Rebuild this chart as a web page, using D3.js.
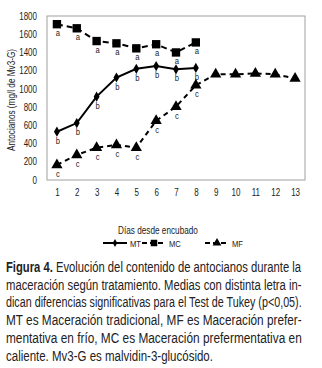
<!DOCTYPE html>
<html><head><meta charset="utf-8">
<script src="https://cdn.jsdelivr.net/npm/d3@7"></script>
<style>
body{margin:0;background:#fff;}
svg{display:block;}
</style></head>
<body>
<script>
const days = [1,2,3,4,5,6,7,8,9,10,11,12,13];
const yTicks = [0,200,400,600,800,1000,1200,1400,1600,1800];
const mtValues = [530,625,915,1125,1220,1250,1215,1230];
const mtLetters = ["b","b","b","b","b","b","b","b"];
const mcValues = [1710,1665,1525,1500,1445,1490,1400,1510];
const mcLetters = ["a","a","a","a","a","a","a","a"];
const mfValues = [165,275,355,385,355,650,805,1040,1160,1160,1170,1160,1115];
const mfLetters = ["c","c","c","c","c","c","c","c"];
const seriesNames = ["MT","MC","MF"];
const captionLines = [
 ["Figura 4.","Evolución del contenido de antocianos durante la"],
 ["","maceración según tratamiento. Medias con distinta letra in-"],
 ["","dican diferencias significativas para el Test de Tukey (p<0,05)."],
 ["","MT es Maceración tradicional, MF es Maceración prefer-"],
 ["","mentativa en frío, MC es Maceración prefermentativa en"],
 ["","caliente. Mv3-G es malvidin-3-glucósido."]
];

const W=322,H=368;
const font = "'Liberation Sans',Arial,sans-serif";
const svg = d3.select("body").append("svg").attr("width",W).attr("height",H);
const m = {l:47,t:16,r:305,b:180};
const x = d3.scalePoint().domain(days).range([m.l,m.r]).padding(0.5);
const y = d3.scaleLinear().domain([0,1800]).range([m.b,m.t]);

function condense(sel, f){
  sel.each(function(){
    const w = this.getComputedTextLength();
    d3.select(this).attr("textLength", w*f).attr("lengthAdjust","spacingAndGlyphs");
  });
}

svg.append("rect").attr("x",m.l).attr("y",m.t).attr("width",m.r-m.l).attr("height",m.b-m.t)
  .attr("fill","none").attr("stroke","#a0a0a0").attr("stroke-width",1);

const yAxis = svg.append("g").attr("transform",`translate(${m.l},0)`)
  .call(d3.axisLeft(y).tickValues(yTicks).tickFormat(d3.format("d")).tickSize(0).tickPadding(10));
yAxis.select(".domain").remove();
yAxis.selectAll("text").attr("font-family",font).attr("font-size",10).attr("fill","#222");
condense(yAxis.selectAll("text"),0.8);

const xAxis = svg.append("g").attr("transform",`translate(0,${m.b})`)
  .call(d3.axisBottom(x).tickSize(0).tickPadding(9));
xAxis.select(".domain").remove();
xAxis.selectAll("text").attr("font-family",font).attr("font-size",10).attr("fill","#222");
condense(xAxis.selectAll("text"),0.8);

const yt = svg.append("text").attr("transform",`translate(15,${(m.t+m.b)/2+2}) rotate(-90)`)
  .attr("text-anchor","middle").attr("font-family",font).attr("font-size",10).attr("fill","#222")
  .text("Antocianos (mg/l de Mv3-G)");
condense(yt,0.82);
const xt = svg.append("text").attr("x",158).attr("y",234).attr("text-anchor","middle")
  .attr("font-family",font).attr("font-size",10).attr("fill","#222").text("Días desde encubado");
condense(xt,0.82);

const series = [
  {vals:mtValues, letters:mtLetters, dash:null, sw:2, shape:d3.symbolDiamond, size:30, ld:10},
  {vals:mcValues, letters:mcLetters, dash:"6,4", sw:2, shape:d3.symbolSquare, size:70, ld:10},
  {vals:mfValues, letters:mfLetters, dash:"5,4", sw:2, shape:d3.symbolTriangle, size:55, ld:10}
];
const line = d3.line().x((d,i)=>x(days[i])).y(d=>y(d));
series.forEach(s=>{
  svg.append("path").datum(s.vals).attr("d",line).attr("fill","none").attr("stroke","#000")
    .attr("stroke-width",s.sw).attr("stroke-dasharray",s.dash);
  svg.selectAll(null).data(s.vals).enter().append("path")
    .attr("d",d3.symbol().type(s.shape).size(s.size))
    .attr("transform",(d,i)=>`translate(${x(days[i])},${y(d)})`).attr("fill","#000");
  const lt = svg.selectAll(null).data(s.letters).enter().append("text")
    .attr("x",(d,i)=>x(days[i])+1).attr("y",(d,i)=>y(s.vals[i])+s.ld+2)
    .attr("text-anchor","middle").attr("font-family",font).attr("font-size",9).attr("fill","#222").text(d=>d);
  condense(lt,0.85);
});

// legend
const lg = [{x:103},{x:142},{x:205}];
series.forEach((s,i)=>{
  const lx = lg[i].x, ly=243;
  svg.append("line").attr("x1",lx).attr("x2",lx+24).attr("y1",ly).attr("y2",ly)
    .attr("stroke","#000").attr("stroke-width",2).attr("stroke-dasharray",s.dash?"5,3":null);
  svg.append("path").attr("d",d3.symbol().type(s.shape).size(s.size*0.6))
    .attr("transform",`translate(${lx+12},${ly})`).attr("fill","#000");
  const t = svg.append("text").attr("x",lx+27).attr("y",ly+3.5).attr("font-family",font).attr("font-size",9.5)
    .attr("fill","#222").text(seriesNames[i]);
  condense(t,0.8);
});

// caption: each line drawn then horizontally scaled to its width
const capW = [296,296,296,296,296,207];
captionLines.forEach((ln,i)=>{
  const g = svg.append("g");
  const t = g.append("text").attr("x",0).attr("y",0)
    .attr("font-family",font).attr("font-size",14.5).attr("fill","#222");
  if(ln[0]) t.append("tspan").attr("font-weight","bold").text(ln[0]+" ");
  t.append("tspan").text(ln[1]);
  const w = t.node().getBBox().width;
  g.attr("transform",`translate(6,${272+i*17.7}) scale(${capW[i]/w},1)`);
});
</script>
</body></html>
